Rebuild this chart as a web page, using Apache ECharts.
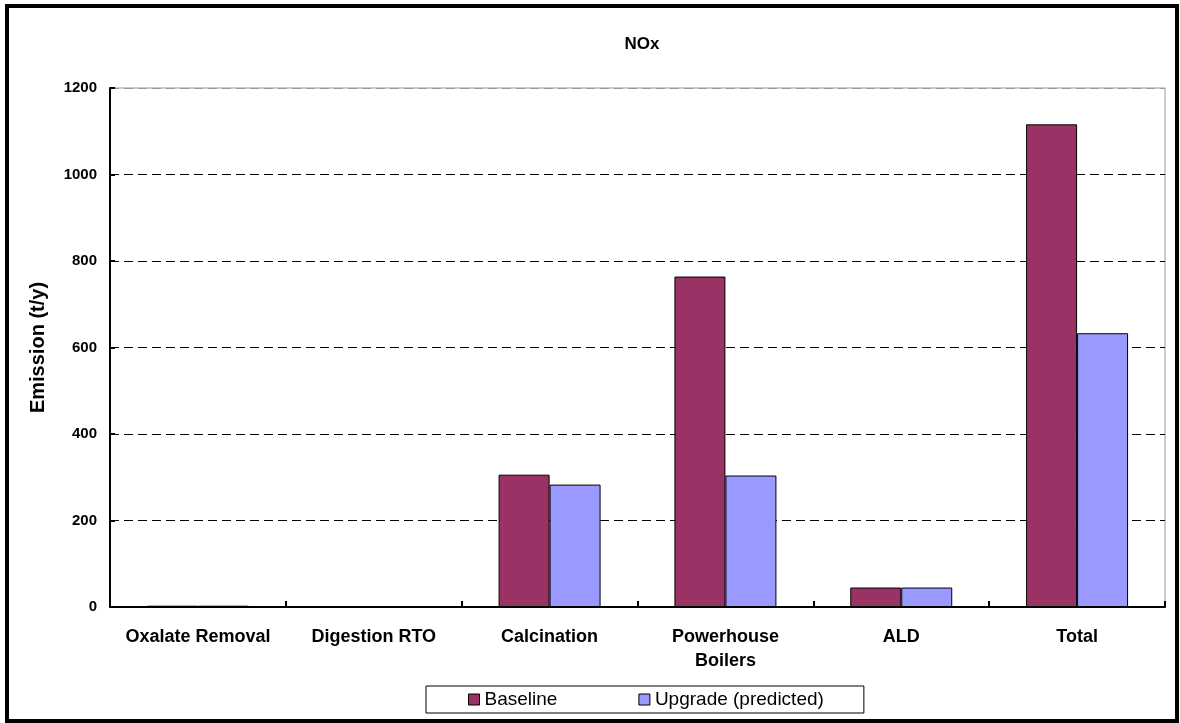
<!DOCTYPE html>
<html>
<head>
<meta charset="utf-8">
<script src="https://cdn.jsdelivr.net/npm/echarts@6/dist/echarts.min.js"></script>
<style>
html,body{margin:0;padding:0;background:#fff;}
#chart{width:1180px;height:723px;}
</style>
</head>
<body>
<div id="chart"></div>
<script>
const categories = ['Oxalate Removal', 'Digestion RTO', 'Calcination', 'Powerhouse\nBoilers', 'ALD', 'Total'];
const baseline = [3, 0, 306, 764, 45, 1116];
const upgrade = [3, 0, 283, 304, 45, 633];
const seriesNames = ['Baseline', 'Upgrade (predicted)'];
const yTicks = { min: 0, max: 1200, interval: 200 };

const FONT = '"Liberation Sans", Arial, sans-serif';
const chart = echarts.init(document.getElementById('chart'));
chart.setOption({
  animation: false,
  backgroundColor: '#fff',
  title: {
    text: 'NOx', left: 637, top: 31, textAlign: 'center',
    textStyle: { fontFamily: FONT, fontWeight: 'bold', fontSize: 17, color: '#000' }
  },
  graphic: [{
    type: 'rect', shape: { x: 7, y: 6, width: 1170, height: 715 },
    style: { fill: 'none', stroke: '#000', lineWidth: 4 }, z: 100
  }],
  grid: {
    left: 110, right: 15, top: 88, bottom: 116,
    show: true, borderColor: '#999', borderWidth: 1, backgroundColor: '#fff'
  },
  legend: {
    data: seriesNames,
    left: 426, top: 686,
    padding: [4, 40, 4, 42],
    itemGap: 81, itemWidth: 11, itemHeight: 11,
    borderColor: '#000', borderWidth: 1,
    icon: 'rect',
    itemStyle: { borderColor: '#000', borderWidth: 1 },
    textStyle: { fontFamily: FONT, fontSize: 19, color: '#000' }
  },
  xAxis: {
    type: 'category', data: categories,
    axisLine: { lineStyle: { color: '#000', width: 2 } },
    axisTick: { show: true, inside: true, length: 6, lineStyle: { color: '#000', width: 2 } },
    axisLabel: {
      interval: 0, margin: 18, lineHeight: 24,
      fontFamily: FONT, fontWeight: 'bold', fontSize: 18, color: '#000'
    }
  },
  yAxis: {
    type: 'value', min: yTicks.min, max: yTicks.max, interval: yTicks.interval,
    name: 'Emission (t/y)', nameLocation: 'middle', nameGap: 62, nameRotate: 90,
    nameTextStyle: { fontFamily: FONT, fontWeight: 'bold', fontSize: 20, color: '#000' },
    axisLine: { show: true, lineStyle: { color: '#000', width: 2 } },
    axisTick: { show: true, inside: true, length: 5, lineStyle: { color: '#000', width: 2 } },
    axisLabel: {
      margin: 13, fontFamily: FONT, fontWeight: 'bold', fontSize: 15, color: '#000',
      formatter: function (v) { return String(v); }
    },
    splitLine: {
      show: true,
      lineStyle: { color: ['#000', '#000', '#000', '#000', '#000', '#000', '#999'], width: 1, type: [9, 5] }
    }
  },
  series: [
    {
      name: seriesNames[0], type: 'bar', data: baseline,
      barGap: '0%', barCategoryGap: '42%',
      itemStyle: { color: '#993366', borderColor: '#000', borderWidth: 1 }
    },
    {
      name: seriesNames[1], type: 'bar', data: upgrade,
      barGap: '0%', barCategoryGap: '42%',
      itemStyle: { color: '#9999FF', borderColor: '#000', borderWidth: 1 }
    }
  ]
});
</script>
</body>
</html>
